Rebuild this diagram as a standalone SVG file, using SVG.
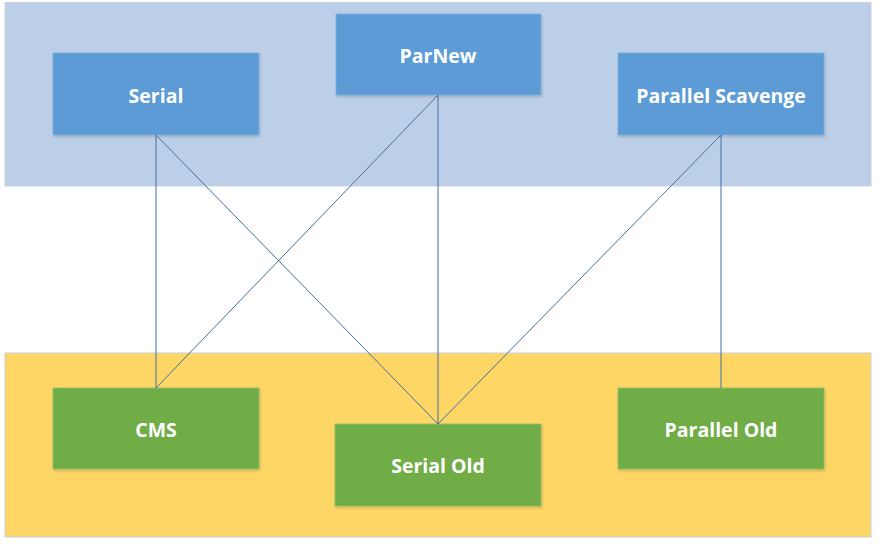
<svg xmlns="http://www.w3.org/2000/svg" width="878" height="545" viewBox="0 0 878 545">
<defs>
<filter id="sh" x="-5%" y="-5%" width="115%" height="120%">
<feDropShadow dx="1" dy="1.5" stdDeviation="1.2" flood-color="#000" flood-opacity="0.18"/>
</filter>
</defs>
<style>
.band-top{fill:#bccfe8;stroke:#c9d3de;stroke-width:1}
.band-bot{fill:#fdd666;stroke:#c9cfd6;stroke-width:1}
.blue{fill:#5b9bd5;stroke:#7aaedc;stroke-width:0.8;filter:url(#sh)}
.green{fill:#70ad47;stroke:#8fbf6e;stroke-width:0.8;filter:url(#sh)}
.lbl{font-family:"Open Sans","Noto Sans","Liberation Sans",sans-serif;font-weight:bold;font-size:19.5px;fill:#ffffff;text-anchor:middle;dominant-baseline:central}
.conn line{stroke:#41719c;stroke-width:1}
</style>
<rect class="band-top" x="5" y="2.5" width="866" height="183.5"/>
<rect class="band-bot" x="5" y="353" width="866" height="184"/>
<g id="serial"><rect class="blue" x="53" y="53" width="206" height="82"/><text class="lbl" x="156" y="95">Serial</text></g>
<g id="parnew"><rect class="blue" x="336" y="14" width="205" height="81"/><text class="lbl" x="438" y="55">ParNew</text></g>
<g id="parallel-scavenge"><rect class="blue" x="618" y="53" width="206" height="82"/><text class="lbl" x="721" y="95">Parallel Scavenge</text></g>
<g id="cms"><rect class="green" x="53" y="388" width="206" height="81"/><text class="lbl" x="156" y="429">CMS</text></g>
<g id="serial-old"><rect class="green" x="335" y="424" width="206" height="82"/><text class="lbl" x="438" y="465">Serial Old</text></g>
<g id="parallel-old"><rect class="green" x="618" y="388" width="206" height="81"/><text class="lbl" x="721" y="429">Parallel Old</text></g>
<g class="conn" id="connectors">
<line x1="156" y1="135" x2="156" y2="388"/>
<line x1="156" y1="135" x2="438" y2="424"/>
<line x1="438" y1="95" x2="156" y2="388"/>
<line x1="438" y1="95" x2="438" y2="424"/>
<line x1="721" y1="135" x2="438" y2="424"/>
<line x1="721" y1="135" x2="721" y2="388"/>
</g>
</svg>
